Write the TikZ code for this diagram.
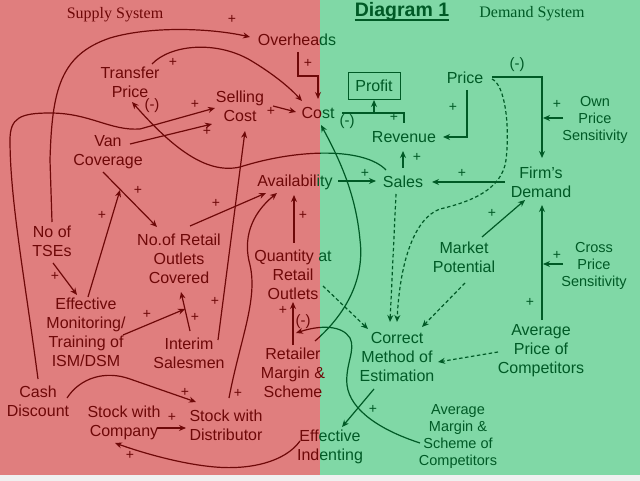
\documentclass[tikz,border=0pt]{standalone}
\usepackage{fontspec}
\setmainfont{Liberation Sans}
\newfontfamily\seriffam{Liberation Serif}
\usetikzlibrary{arrows.meta}
\definecolor{bgred}{RGB}{224,126,126}
\definecolor{bggreen}{RGB}{128,216,166}
\definecolor{tred}{RGB}{110,8,8}
\definecolor{tgreen}{RGB}{0,90,38}
\newcommand\splitdraw[2]{%
  \begin{scope}\clip (0,-10) rectangle (320,490); \draw[#1,tred] #2; \end{scope}
  \begin{scope}\clip (320,-10) rectangle (650,490); \draw[#1,tgreen] #2; \end{scope}}
\begin{document}
\begin{tikzpicture}[x=1pt,y=-1pt,
  lbl/.style={font=\fontsize{16}{19}\selectfont, align=center, inner sep=0pt},
  sm/.style={font=\fontsize{14.5}{17}\selectfont, align=center, inner sep=0pt},
  pl/.style={font=\fontsize{14}{14}\selectfont, inner sep=0pt},
  neg/.style={font=\fontsize{15}{15}\selectfont, inner sep=0pt},
  ttl/.style={font=\seriffam\fontsize{16}{16}\selectfont, inner sep=0pt},
  ln/.style={line width=1.2pt},
  arr/.style={ln, -{Stealth[length=7pt,width=6pt]}},
  dsh/.style={arr, dash pattern=on 3.5pt off 2.5pt}]
\useasboundingbox (0,0) rectangle (640,481);
\fill[bgred] (0,0) rectangle (320,475);
\fill[bggreen] (320,0) rectangle (640,475);
\fill[black!6] (0,475) rectangle (640,481);

% ---------- titles ----------
\node[ttl,tred] (SS) at (115,15) {Supply System};
\node[tgreen,font=\bfseries\fontsize{19.5}{20}\selectfont,inner sep=0pt] (D1) at (402,12) {Diagram 1};
\draw[tgreen,line width=1.6pt] ([yshift=-3pt]D1.base west) -- ([yshift=-3pt]D1.base east);
\node[ttl,tgreen] (DS) at (532,14) {Demand System};

% ---------- supply nodes ----------
\begin{scope}[tred]
\node[lbl] (OH) at (297,40) {Overhea{\color{tgreen}ds}};
\node[lbl] (TP) at (130,82) {Transfer\\Price};
\node[lbl] (SC) at (240,106) {Selling\\Cost};
\node[lbl] (CO) at (318,113) {Co{\color{tgreen}st}};
\node[lbl] (VC) at (108,152) {Van\\Coverage};
\node[lbl] (TSE) at (52,241) {No of\\TSEs};
\node[lbl] (NRO) at (179,259) {No.of Retail\\Outlets\\Covered};
\node[lbl] (AV) at (295,182) {Availabil{\color{tgreen}ity}};
\node[lbl] (QRO) at (293,275) {Quantity {\color{tgreen}at}\\Retail\\Outlets};
\node[lbl] (EM) at (86,332) {Effective\\Monitoring/\\Training of\\ISM/DSM};
\node[lbl] (IS) at (189,353) {Interim\\Salesmen};
\node[lbl] (RMS) at (293,373) {Retailer\\Margin \&\\Scheme};
\node[lbl] (CD) at (38,401) {Cash\\Discount};
\node[lbl] (SWC) at (124,423) {Stock with\\Company};
\node[lbl] (SWD) at (226,425) {Stock with\\Distributor};
\node[lbl] (EI) at (330,447) {Eff{\color{tgreen}ective}\\Ind{\color{tgreen}enting}};
\end{scope}

% ---------- demand nodes ----------
\begin{scope}[tgreen]
\node[lbl,draw,line width=1pt,minimum width=52pt,minimum height=27pt] (PR) at (374,86) {Profit};
\node[lbl] (RV) at (404,137) {Revenue};
\node[lbl] (PRC) at (465,78) {Price};
\node[sm] (OPS) at (595,120) {Own\\Price\\Sensitivity};
\node[lbl] (SA) at (403,182) {Sales};
\node[lbl] (FD) at (541,182) {Firm’s\\Demand};
\node[lbl] (MP) at (464,257) {Market\\Potential};
\node[sm] (CPS) at (594,266) {Cross\\Price\\Sensitivity};
\node[lbl] (APC) at (541,351) {Average\\Price of\\Competitors};
\node[lbl] (CME) at (397,357) {Correct\\Method of\\Estimation};
\node[sm] (AMS) at (458,437) {Average\\Margin \&\\Scheme of\\Competitors};
\end{scope}

% ---------- supply connectors ----------
\begin{scope}[tred]
\draw[arr] ([shift={(0,-19)}]TSE.center) -- (50,160) .. controls (52,90) and (60,55) .. (110,38) .. controls (150,26) and (210,28) .. ([shift={(-47,-3)}]OH.center);
\draw[arr] ([shift={(22,-18)}]TP.center) .. controls (170,45) and (215,40) .. (250,60) .. controls (275,75) and (290,88) .. ([shift={(-16,-12)}]CO.center);
\draw[arr] ([shift={(1,12)}]OH.center) |- (318,76) -- ([shift={(0,-14)}]CO.center);
\draw[arr] ([shift={(33,0)}]SC.center) -- ([shift={(-22,-1)}]CO.center);
\draw[arr] ([shift={(22,-8)}]VC.center) -- ([shift={(-28,18)}]SC.center);
\draw[arr] ([shift={(0,-22)}]CD.center) .. controls (25,280) and (10,200) .. (10,140) .. controls (10,118) and (20,113) .. (50,113) .. controls (90,113) and (110,131) .. (140,129) -- ([shift={(-25,2)}]SC.center);
\draw[arr] ([shift={(29,-13)}]IS.center) -- ([shift={(5,25)}]SC.center);
\draw[arr] ([shift={(0,-28)}]RMS.center) -- ([shift={(0,27)}]QRO.center);
\draw[arr] ([shift={(1,-32)}]QRO.center) -- ([shift={(-1,13)}]AV.center);
\draw[arr] ([shift={(11,-33)}]NRO.center) -- ([shift={(-29,11)}]AV.center);
\draw[arr] ([shift={(3,-27)}]SWD.center) .. controls (240,340) and (258,300) .. (250,265) .. controls (243,240) and (250,215) .. ([shift={(-18,11)}]AV.center);
\draw[arr] ([shift={(-5,20)}]VC.center) -- ([shift={(-22,-32)}]NRO.center);
\draw[arr] ([shift={(2,-35)}]EM.center) -- ([shift={(12,38)}]VC.center);
\draw[arr] ([shift={(1,22)}]TSE.center) -- ([shift={(-9,-37)}]EM.center);
\draw[arr] ([shift={(37,3)}]EM.center) -- ([shift={(-4,-44)}]IS.center);
\draw[arr] ([shift={(1,-22)}]IS.center) -- ([shift={(2,33)}]NRO.center);
\draw[arr] ([shift={(29,-3)}]CD.center) .. controls (80,378) and (105,370) .. (130,379) -- ([shift={(-30,-23)}]SWD.center);
\draw[arr] ([shift={(33,5)}]SWC.center) -- ([shift={(-40,3)}]SWD.center);
\draw[arr] ([shift={(-30,-6)}]EI.center) .. controls (285,462) and (250,470) .. (215,467) .. controls (180,464) and (140,452) .. ([shift={(-9,20)}]SWC.center);
\node[pl] at (232,19) {+};
\node[pl] at (173,62) {+};
\node[pl] at (308,63) {+};
\node[pl] at (271,111) {+};
\node[pl] at (207,131) {+};
\node[pl] at (195,104) {+};
\node[pl] at (215,301) {+};
\node[pl] at (283,310) {+};
\node[pl] at (303,215) {+};
\node[pl] at (216,203) {+};
\node[pl] at (238,393) {+};
\node[pl] at (138,190) {+};
\node[pl] at (102,215) {+};
\node[pl] at (55,276) {+};
\node[pl] at (147,314) {+};
\node[pl] at (195,317) {+};
\node[pl] at (185,392) {+};
\node[pl] at (172,417) {+};
\node[pl] at (130,455) {+};
\node[neg] at (152,106) {(-)};
\node[neg] at (303,322) {(-)};
\end{scope}

% ---------- connectors crossing the border ----------
\splitdraw{arr}{([shift={(-17,-12)}]SA.center) .. controls (365,148) and (300,148) .. (240,167) .. controls (205,175) and (170,145) .. ([shift={(2,20)}]TP.center)}
\splitdraw{arr}{([shift={(22,-32)}]RMS.center) .. controls (345,315) and (365,280) .. (360,240) .. controls (356,195) and (340,160) .. ([shift={(3,12)}]CO.center)}
\splitdraw{arr}{([shift={(-38,6)}]AMS.center) .. controls (380,430) and (350,410) .. (347,385) .. controls (345,365) and (356,350) .. (350,338) .. controls (342,325) and (320,325) .. ([shift={(3,-40)}]RMS.center)}

% ---------- demand connectors ----------
\begin{scope}[tgreen]
\draw[arr] ([shift={(-23,32)}]CME.center) -- ([shift={(12,-20)}]EI.center);
\draw[arr] ([shift={(0,-14)}]SA.center) -- ([shift={(-1,14)}]RV.center);
\draw[ln] ([shift={(24,0)}]CO.center) -- (404,113) -- ([shift={(0,-14)}]RV.center);
\draw[arr] ([shift={(0,14)}]PR.south) -- (PR.south);
\draw[arr] ([shift={(2,12)}]PRC.center) |- ([shift={(39,0)}]RV.center);
\draw[arr] ([shift={(27,-1)}]PRC.center) -| ([shift={(1,-24)}]FD.center);
\draw[arr] ([shift={(-32,-2)}]OPS.center) -- ([shift={(-52,-2)}]OPS.center);
\draw[arr] ([shift={(-36,0)}]FD.center) -- ([shift={(29,0)}]SA.center);
\draw[arr] ([shift={(43,-1)}]AV.center) -- ([shift={(-27,-1)}]SA.center);
\draw[arr] ([shift={(18,-20)}]MP.center) -- ([shift={(-16,18)}]FD.center);
\draw[arr] ([shift={(1,-31)}]APC.center) -- ([shift={(1,23)}]FD.center);
\draw[arr] ([shift={(-31,-2)}]CPS.center) -- ([shift={(-51,-2)}]CPS.center);
\draw[dsh] ([shift={(27,1)}]PRC.center) .. controls (505,85) and (510,125) .. (506,160) .. controls (502,190) and (470,202) .. (440,209) .. controls (415,218) and (400,260) .. ([shift={(0,-35)}]CME.center);
\draw[dsh] ([shift={(-7,12)}]SA.center) -- ([shift={(-7,-35)}]CME.center);
\draw[dsh] ([shift={(30,11)}]QRO.center) -- ([shift={(-29,-28)}]CME.center);
\draw[dsh] ([shift={(1,26)}]MP.center) -- ([shift={(25,-30)}]CME.center);
\draw[dsh] ([shift={(-43,1)}]APC.center) -- ([shift={(41,5)}]CME.center);
\node[pl] at (373,409) {+};
\node[pl] at (417,157) {+};
\node[pl] at (394,117) {+};
\node[pl] at (453,107) {+};
\node[pl] at (557,104) {+};
\node[pl] at (462,173) {+};
\node[pl] at (365,173) {+};
\node[pl] at (492,213) {+};
\node[pl] at (530,302) {+};
\node[pl] at (557,255) {+};
\node[neg] at (347,122) {(-)};
\node[neg] at (517,65) {(-)};
\end{scope}
\end{tikzpicture}
\end{document}
